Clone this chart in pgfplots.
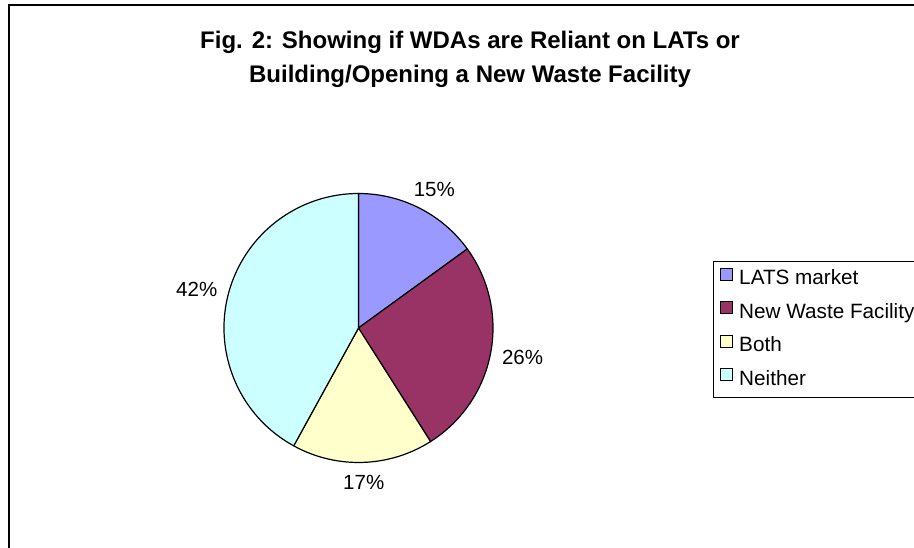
\documentclass[border=0pt]{standalone}
\usepackage{pgfplots}
\pgfplotsset{compat=1.18}
\usepackage{pgfplotstable}
\usepackage{fontspec}
\setmainfont{Liberation Sans}
\definecolor{slice0}{HTML}{9999FF}
\definecolor{slice1}{HTML}{993366}
\definecolor{slice2}{HTML}{FFFFCC}
\definecolor{slice3}{HTML}{CCFFFF}

\pgfplotstableread[col sep=comma]{
name,value
LATS market,15
New Waste Facility,26
Both,17
Neither,42
}\piedata

\pgfplotsset{squareleg/.style={legend image code/.code={\draw[##1] (0pt,-0.5pt) rectangle (12pt,11.5pt);}}}

\begin{document}
\begin{tikzpicture}
\useasboundingbox (0,0) rectangle (914pt,548pt);
\clip (0,0) rectangle (914pt,548pt);
\begin{axis}[
  at={(0,0)}, anchor=south west,
  scale only axis, width=914pt, height=548pt,
  xmin=0, xmax=914, ymin=0, ymax=548,
  hide axis, clip=false,
  legend cell align=left,
  legend style={at={(0.7798,0.5237)}, anchor=north west,
    draw=black, line width=1pt, fill=white,
    font=\fontsize{20.7}{24}\selectfont,
    inner xsep=7pt, inner ysep=6pt, row sep=10.5pt, column sep=4pt,
    nodes={text height=15pt, text depth=5pt, inner ysep=1pt, inner xsep=2pt}},
]
\addlegendimage{squareleg, fill=slice0, draw=black, line width=1pt}
\addlegendentry{LATS market}
\addlegendimage{squareleg, fill=slice1, draw=black, line width=1pt}
\addlegendentry{New Waste Facility}
\addlegendimage{squareleg, fill=slice2, draw=black, line width=1pt}
\addlegendentry{Both}
\addlegendimage{squareleg, fill=slice3, draw=black, line width=1pt}
\addlegendentry{Neither}

\draw[line width=2pt] (axis cs:9,0) -- (axis cs:9,543) -- (axis cs:914,543);

\node[font=\bfseries\fontsize{24}{34}\selectfont, anchor=base] at (axis cs:470,499.7) {Fig. 2: Showing if WDAs are Reliant on LATs or};
\node[font=\bfseries\fontsize{24}{34}\selectfont, anchor=base] at (axis cs:470,465.7) {Building/Opening a New Waste Facility};

\pgfplotsextra{%
  \pgfplotstablegetrowsof{\piedata}%
  \pgfmathtruncatemacro\lastrow{\pgfplotsretval-1}%
  \xdef\cum{0}%
  \foreach \i in {0,...,\lastrow}{%
    \pgfplotstablegetelem{\i}{value}\of\piedata
    \let\v=\pgfplotsretval
    \pgfmathsetmacro\a{90-3.6*\cum}%
    \pgfmathsetmacro\b{90-3.6*(\cum+\v)}%
    \pgfmathsetmacro\m{(\a+\b)/2}%
    \filldraw[fill=slice\i, draw=black, line width=1.2pt, line join=round]
      (axis cs:358.5,220) -- ++(\a:134.5pt) arc[start angle=\a, end angle=\b, radius=134.5pt] -- cycle;
    \pgfmathsetmacro\lx{358.5+145*cos(\m)+22*cos(\m)}%
    \pgfmathsetmacro\ly{220+145*sin(\m)+10*sin(\m)}%
    \node[font=\fontsize{20.5}{24}\selectfont] at (axis cs:\lx,\ly) {\v\%};
    \pgfmathsetmacro\nc{\cum+\v}%
    \xdef\cum{\nc}%
  }%
}
\end{axis}
\end{tikzpicture}
\end{document}
